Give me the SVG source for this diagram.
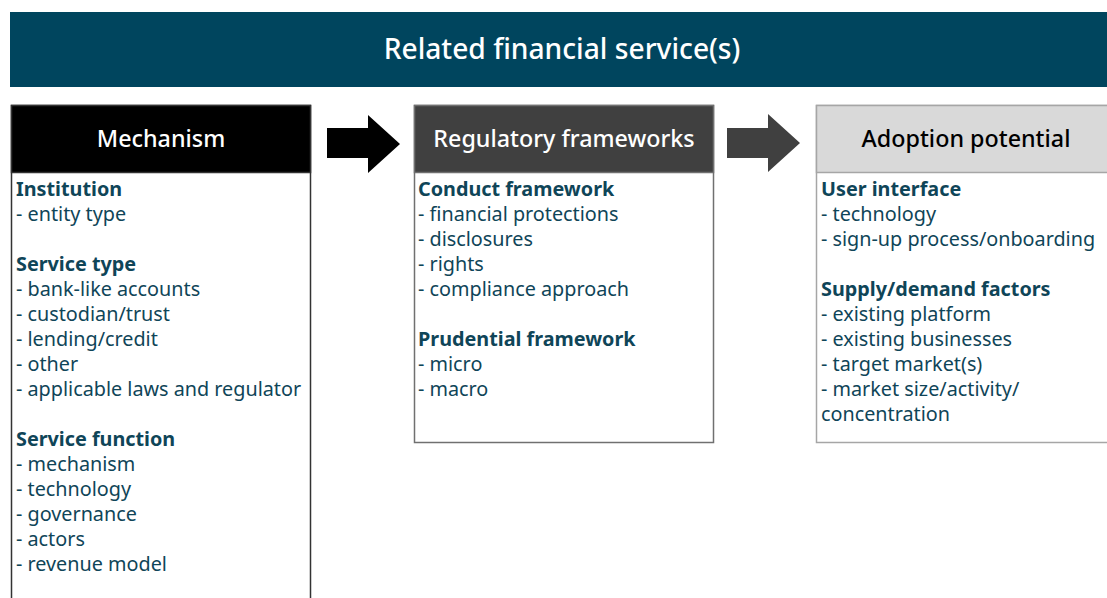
<svg xmlns="http://www.w3.org/2000/svg" width="1107" height="598" viewBox="0 0 1107 598">
<style>
.hd{font-family:"Noto Sans","Open Sans",sans-serif;font-size:23.3px;font-weight:500;text-anchor:middle;dominant-baseline:central}
.ttl{font-size:28.2px;font-weight:500}
.b{font-family:"Noto Sans","Open Sans",sans-serif;font-size:19.8px;fill:#0f4558}
.bb{font-weight:bold}
</style>
<rect width="1107" height="598" fill="#ffffff"/>
<g id="banner">
<rect x="10" y="12" width="1097" height="75" fill="#00455e"/>
<text x="562" y="48" class="hd ttl" fill="#ffffff">Related financial service(s)</text>
</g>
<g id="mechanism">
<rect x="11.5" y="105.5" width="299" height="500" fill="#ffffff" stroke="#333333" stroke-width="1.5"/>
<rect x="11.5" y="105.5" width="299" height="67" fill="#000000" stroke="#333333" stroke-width="1.5"/>
<text x="161" y="138" class="hd" fill="#ffffff">Mechanism</text>
<text class="b" x="16">
<tspan x="16" y="196" class="bb">Institution</tspan>
<tspan x="16" y="221">- entity type</tspan>
<tspan x="16" y="271" class="bb">Service type</tspan>
<tspan x="16" y="296">- bank-like accounts</tspan>
<tspan x="16" y="321">- custodian/trust</tspan>
<tspan x="16" y="346">- lending/credit</tspan>
<tspan x="16" y="371">- other</tspan>
<tspan x="16" y="396">- applicable laws and regulator</tspan>
<tspan x="16" y="446" class="bb">Service function</tspan>
<tspan x="16" y="471">- mechanism</tspan>
<tspan x="16" y="496">- technology</tspan>
<tspan x="16" y="521">- governance</tspan>
<tspan x="16" y="546">- actors</tspan>
<tspan x="16" y="571">- revenue model</tspan>
</text>
</g>
<g id="regulatory">
<rect x="414.5" y="105.5" width="299" height="337" fill="#ffffff" stroke="#707070" stroke-width="1.5"/>
<rect x="414.5" y="105.5" width="299" height="67" fill="#404040" stroke="#707070" stroke-width="1.5"/>
<text x="564" y="138" class="hd" fill="#ffffff">Regulatory frameworks</text>
<text class="b">
<tspan x="418" y="196" class="bb">Conduct framework</tspan>
<tspan x="418" y="221">- financial protections</tspan>
<tspan x="418" y="246">- disclosures</tspan>
<tspan x="418" y="271">- rights</tspan>
<tspan x="418" y="296">- compliance approach</tspan>
<tspan x="418" y="346" class="bb">Prudential framework</tspan>
<tspan x="418" y="371">- micro</tspan>
<tspan x="418" y="396">- macro</tspan>
</text>
</g>
<g id="adoption">
<rect x="816.5" y="105.5" width="300" height="337" fill="#ffffff" stroke="#a6a6a6" stroke-width="1.5"/>
<rect x="816.5" y="105.5" width="300" height="67" fill="#d9d9d9" stroke="#a6a6a6" stroke-width="1.5"/>
<text x="966" y="138" class="hd" fill="#000000">Adoption potential</text>
<text class="b">
<tspan x="821" y="196" class="bb">User interface</tspan>
<tspan x="821" y="221">- technology</tspan>
<tspan x="821" y="246">- sign-up process/onboarding</tspan>
<tspan x="821" y="296" class="bb">Supply/demand factors</tspan>
<tspan x="821" y="321">- existing platform</tspan>
<tspan x="821" y="346">- existing businesses</tspan>
<tspan x="821" y="371">- target market(s)</tspan>
<tspan x="821" y="396">- market size/activity/</tspan>
<tspan x="821" y="421">concentration</tspan>
</text>
</g>
<g id="connectors">
<polygon points="327,128 368,128 368,115 400,144 368,173 368,158 327,158" fill="#000000"/>
<polygon points="727,128 768,128 768,114 800,143 768,172 768,158 727,158" fill="#404040"/>
</g>
</svg>
